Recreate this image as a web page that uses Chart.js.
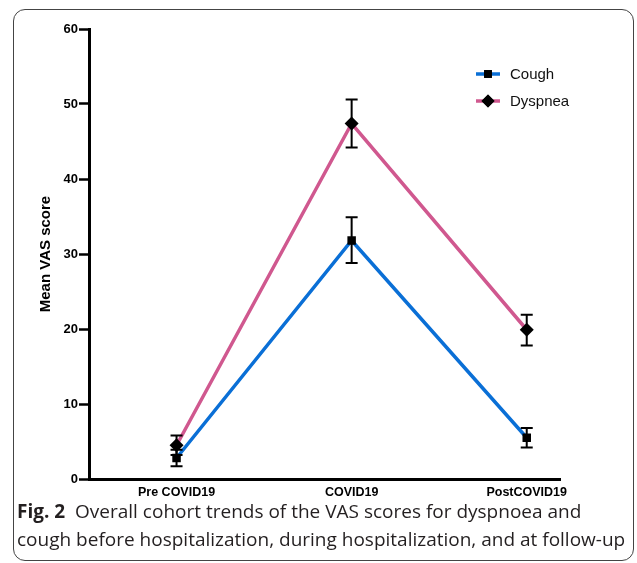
<!DOCTYPE html>
<html>
<head>
<meta charset="utf-8">
<script src="https://cdn.jsdelivr.net/npm/chart.js@4/dist/chart.umd.min.js"></script>
<style>
  body { margin: 0; background: #fff; }
  #wrap { position: relative; width: 637px; height: 563px; overflow: hidden; }
  #frame { position: absolute; left: 13px; top: 9px; width: 621px; height: 552px;
           border: 1.5px solid #444; border-radius: 12px; box-sizing: border-box; }
  canvas { position: absolute; left: 0; top: 0; }
  #caption { position: absolute; left: 17px; top: 497px; font-family: "Open Sans", sans-serif;
             font-size: 19px; line-height: 28px; color: #231f20; white-space: nowrap; }
  #caption b { font-weight: 700; }
</style>
</head>
<body>
<div id="wrap">
  <div id="frame"></div>
  <canvas id="chart" width="637" height="500"></canvas>
  <div id="caption"><b>Fig. 2</b>&nbsp; Overall cohort trends of the VAS scores for dyspnoea and<br>cough before hospitalization, during hospitalization, and at follow-up</div>
</div>
<script>
// DATA -----------------------------------------------------------------------

const categories = ['Pre COVID19', 'COVID19', 'PostCOVID19']

const coughMean = [2.8, 31.8, 5.5]
const coughLow = [1.7, 28.8, 4.2]
const coughHigh = [3.9, 34.9, 6.8]

const dyspneaMean = [4.5, 47.4, 19.9]
const dyspneaLow = [3.2, 44.2, 17.8]
const dyspneaHigh = [5.8, 50.6, 21.9]

const yTicks = [0, 10, 20, 30, 40, 50, 60]

// HELPERS --------------------------------------------------------------------

const colors = {cough: '#0a6fd6', dyspnea: '#d0588f'}
const fontFamily = 'Liberation Sans, Arial, sans-serif'

function toPoints(values) {
    return values.map((v, i) => ({x: i, y: v}))
}

function getDataset(label, values, color, pointStyle, radius) {
    return {
        label: label,
        data: toPoints(values),
        borderColor: color,
        borderWidth: 3.5,
        pointStyle: pointStyle,
        pointRadius: radius,
        pointBackgroundColor: '#000',
        pointBorderColor: '#000',
        pointBorderWidth: 0,
        tension: 0
    }
}

// error bars drawn from the scales
const errorBars = {
    id: 'errorBars',
    afterDatasetsDraw(chart) {
        const ctx = chart.ctx
        const xs = chart.scales.x
        const ys = chart.scales.y
        const bars = [[coughLow, coughHigh], [dyspneaLow, dyspneaHigh]]
        ctx.save()
        ctx.strokeStyle = '#000'
        ctx.lineWidth = 2
        bars.forEach(([low, high]) => {
            categories.forEach((c, i) => {
                const x = xs.getPixelForValue(i)
                const y1 = ys.getPixelForValue(low[i])
                const y2 = ys.getPixelForValue(high[i])
                ctx.beginPath()
                ctx.moveTo(x, y1); ctx.lineTo(x, y2)
                ctx.moveTo(x - 6, y1); ctx.lineTo(x + 6, y1)
                ctx.moveTo(x - 6, y2); ctx.lineTo(x + 6, y2)
                ctx.stroke()
            })
        })
        ctx.restore()
    }
}

// legend with line + marker
const lineLegend = {
    id: 'lineLegend',
    afterDraw(chart) {
        const ctx = chart.ctx
        ctx.save()
        chart.data.datasets.forEach((ds, i) => {
            const y = 74 + i * 27
            ctx.strokeStyle = ds.borderColor
            ctx.lineWidth = 3.5
            ctx.beginPath()
            ctx.moveTo(476, y); ctx.lineTo(500, y)
            ctx.stroke()
            Chart.helpers.drawPoint(ctx, {pointStyle: ds.pointStyle, radius: ds.pointRadius - 0.5, borderWidth: 0}, 488, y)
            ctx.fillStyle = '#000'
            ctx.fill()
            ctx.fillStyle = '#111'
            ctx.font = '15px ' + fontFamily
            ctx.textBaseline = 'middle'
            ctx.fillText(ds.label, 510, y + 1)
        })
        ctx.restore()
    }
}

// CHART ----------------------------------------------------------------------

new Chart(document.getElementById('chart'), {
    type: 'line',
    data: {
        datasets: [
            getDataset('Cough', coughMean, colors.cough, 'rect', 6),
            getDataset('Dyspnea', dyspneaMean, colors.dyspnea, 'rectRot', 7)
        ]
    },
    options: {
        responsive: false,
        animation: false,
        devicePixelRatio: 1,
        layout: {padding: {top: 29, right: 77, left: 0, bottom: 0}},
        plugins: {legend: {display: false}, tooltip: {enabled: false}},
        scales: {
            x: {
                type: 'linear',
                min: -0.5,
                max: 2.19,
                afterFit: (scale) => { scale.height = 21 },
                border: {color: '#000', width: 3},
                grid: {display: false, drawTicks: false},
                ticks: {
                    stepSize: 1,
                    includeBounds: false,
                    autoSkip: false,
                    maxRotation: 0,
                    padding: 6,
                    color: '#000',
                    font: {family: fontFamily, size: 12.5, weight: 'bold'},
                    callback: (v) => categories[v] ?? ''
                }
            },
            y: {
                min: 0,
                max: 60,
                afterFit: (scale) => { scale.width = 89 },
                afterBuildTicks: (scale) => { scale.ticks = yTicks.map(v => ({value: v})) },
                border: {color: '#000', width: 3},
                grid: {drawOnChartArea: false, tickLength: 10, tickColor: '#000', tickWidth: 2.5},
                ticks: {color: '#000', font: {family: fontFamily, size: 13, weight: 'bold'}, padding: 1},
                title: {
                    display: true,
                    text: 'Mean VAS score',
                    color: '#000',
                    font: {family: fontFamily, size: 15, weight: 'bold'},
                    padding: {top: 37, bottom: 0}
                }
            }
        }
    },
    plugins: [errorBars, lineLegend]
});
</script>
</body>
</html>
